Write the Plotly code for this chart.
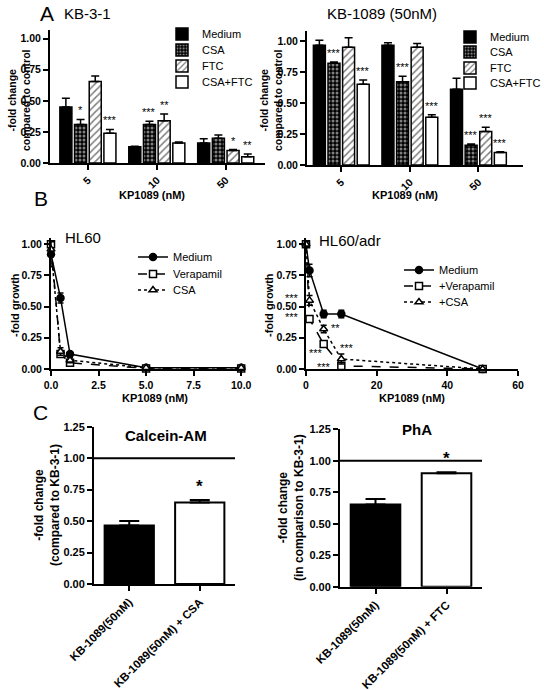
import plotly.graph_objects as go

FONT = "Liberation Sans, Arial, Helvetica, sans-serif"
W, H = 544, 690

# ---------------- data ----------------
# Panel A
A_CATS = ["5", "10", "50"]
A_SERIES = ["Medium", "CSA", "FTC", "CSA+FTC"]

KB31_MEDIUM = [0.45, 0.13, 0.16]
KB31_CSA = [0.31, 0.31, 0.20]
KB31_FTC = [0.655, 0.34, 0.10]
KB31_CSA_FTC = [0.24, 0.16, 0.05]
KB31_MEDIUM_ERR = [0.07, 0.005, 0.035]
KB31_CSA_ERR = [0.04, 0.025, 0.025]
KB31_FTC_ERR = [0.045, 0.055, 0.008]
KB31_CSA_FTC_ERR = [0.03, 0.008, 0.022]
KB31_MEDIUM_SIG = ["", "", ""]
KB31_CSA_SIG = ["*", "***", ""]
KB31_FTC_SIG = ["", "**", "*"]
KB31_CSA_FTC_SIG = ["***", "", "**"]

KB1089_MEDIUM = [0.965, 0.965, 0.61]
KB1089_CSA = [0.82, 0.67, 0.16]
KB1089_FTC = [0.95, 0.95, 0.27]
KB1089_CSA_FTC = [0.65, 0.385, 0.10]
KB1089_MEDIUM_ERR = [0.04, 0.02, 0.09]
KB1089_CSA_ERR = [0.01, 0.045, 0.01]
KB1089_FTC_ERR = [0.075, 0.03, 0.035]
KB1089_CSA_FTC_ERR = [0.035, 0.02, 0.006]
KB1089_MEDIUM_SIG = ["", "", ""]
KB1089_CSA_SIG = ["***", "***", "***"]
KB1089_FTC_SIG = ["", "", "***"]
KB1089_CSA_FTC_SIG = ["***", "***", "***"]

# Panel B
HL60_SERIES = ["Medium", "Verapamil", "CSA"]
HL60_DOSE = [0, 0.5, 1, 5, 10]
HL60_MEDIUM = [0.92, 0.57, 0.12, 0.01, 0.01]
HL60_MEDIUM_ERR = [0.1, 0.04, 0.01, 0.01, 0.01]
HL60_VERAPAMIL = [1.0, 0.12, 0.05, 0.005, 0.005]
HL60_VERAPAMIL_ERR = [0.02, 0.02, 0.01, 0.005, 0.005]
HL60_CSA = [0.96, 0.14, 0.07, 0.01, 0.01]
HL60_CSA_ERR = [0.06, 0.03, 0.02, 0.005, 0.005]

ADR_SERIES = ["Medium", "+Verapamil", "+CSA"]
ADR_DOSE = [0, 1, 5, 10, 50]
ADR_MEDIUM = [1.0, 0.79, 0.44, 0.44, 0.0]
ADR_MEDIUM_ERR = [0.02, 0.05, 0.03, 0.03, 0.005]
ADR_VERAPAMIL = [1.0, 0.40, 0.20, 0.025, 0.0]
ADR_VERAPAMIL_ERR = [0.02, 0.02, 0.02, 0.01, 0.005]
ADR_CSA = [1.0, 0.55, 0.32, 0.08, 0.0]
ADR_CSA_ERR = [0.02, 0.04, 0.03, 0.04, 0.005]
ADR_VERAPAMIL_SIG = ["", "***", "***", "***", ""]
ADR_CSA_SIG = ["", "***", "**", "***", ""]

# Panel C
CALCEIN_CATS = ["KB-1089(50nM)", "KB-1089(50nM) + CSA"]
CALCEIN_VALS = [0.465, 0.648]
CALCEIN_ERR = [0.035, 0.02]
CALCEIN_SIG = ["", "*"]
PHA_CATS = ["KB-1089(50nM)", "KB-1089(50nM) + FTC"]
PHA_VALS = [0.652, 0.90]
PHA_ERR = [0.045, 0.008]
PHA_SIG = ["", "*"]
C_REFERENCE = 1.0

# ---------------- helpers ----------------
def fx(px):
    return px / W

def fy(py):
    return 1 - py / H

def dom_x(a, b):
    return [fx(a), fx(b)]

def dom_y(top, bottom):
    return [fy(bottom), fy(top)]

def axis(size=10.5, **kw):
    d = dict(showline=True, linecolor="black", linewidth=2, ticks="outside",
             ticklen=5, tickwidth=1.5, tickcolor="black", showgrid=False,
             zeroline=False, fixedrange=True, automargin=False,
             tickfont=dict(family=FONT, size=size, color="black", weight="bold"))
    d.update(kw)
    return d

BARGAP = 0.148
BARGROUPGAP = 0.18

BAR_STYLE = {
    "Medium": dict(color="black"),
    "CSA": dict(color="black", pattern=dict(shape=".", bgcolor="black", fgcolor="white",
                                            size=4, solidity=0.45)),
    "FTC": dict(color="white", pattern=dict(shape="/", bgcolor="white", fgcolor="black",
                                            size=5, solidity=0.3)),
    "CSA+FTC": dict(color="white"),
}

fig = go.Figure()
annotations = []
legends = {}
leg_counter = [0]

def new_legend(icon_x, center_y):
    leg_counter[0] += 1
    n = leg_counter[0]
    name = "legend" if n == 1 else f"legend{n}"
    legends[name] = dict(x=fx(icon_x - 20), y=fy(center_y), xanchor="left", yanchor="middle",
                         bgcolor="rgba(0,0,0,0)", borderwidth=0,
                         font=dict(family=FONT, size=11, color="black"),
                         itemclick=False, itemdoubleclick=False)
    return name

def star(xref, yref, x, y, text, size=11, xshift=0, yshift=6, bold=False):
    annotations.append(dict(xref=xref, yref=yref, x=x, y=y, text=text, showarrow=False,
                            xanchor="center", yanchor="bottom", xshift=xshift, yshift=yshift,
                            font=dict(family=FONT, size=size, color="black",
                                      weight="bold" if bold else "normal")))

def label(px, py, text, size, bold=False, angle=0, xanchor="center"):
    annotations.append(dict(xref="paper", yref="paper", x=fx(px), y=fy(py), text=text,
                            showarrow=False, xanchor=xanchor, yanchor="middle",
                            textangle=angle,
                            font=dict(family=FONT, size=size, color="black",
                                      weight="bold" if bold else "normal")))

# ---------------- Panel A ----------------
A_POS = list(range(len(A_CATS)))
slot = (1 - BARGAP) / len(A_SERIES)

def bar_panel(xa, ya, vals, errs, sigs, legend_x, legend_ys):
    for j, s in enumerate(A_SERIES):
        st = BAR_STYLE[s]
        marker = dict(color=st["color"], line=dict(color="black", width=1.5))
        if "pattern" in st:
            marker["pattern"] = st["pattern"]
        fig.add_trace(go.Bar(
            x=A_POS, y=vals[j], name=s, xaxis=xa, yaxis=ya, marker=marker,
            legend=new_legend(legend_x, legend_ys[j]),
            error_y=dict(type="data", array=errs[j], arrayminus=[0] * len(A_POS),
                         symmetric=False, color="black", thickness=1.5, width=4),
        ))
        for i in A_POS:
            if sigs[j][i]:
                star(xa, ya, i + (j - 1.5) * slot, vals[j][i] + errs[j][i], sigs[j][i], yshift=1)

bar_panel("x", "y",
          [KB31_MEDIUM, KB31_CSA, KB31_FTC, KB31_CSA_FTC],
          [KB31_MEDIUM_ERR, KB31_CSA_ERR, KB31_FTC_ERR, KB31_CSA_FTC_ERR],
          [KB31_MEDIUM_SIG, KB31_CSA_SIG, KB31_FTC_SIG, KB31_CSA_FTC_SIG],
          182, [34, 50, 66, 82])
bar_panel("x2", "y2",
          [KB1089_MEDIUM, KB1089_CSA, KB1089_FTC, KB1089_CSA_FTC],
          [KB1089_MEDIUM_ERR, KB1089_CSA_ERR, KB1089_FTC_ERR, KB1089_CSA_FTC_ERR],
          [KB1089_MEDIUM_SIG, KB1089_CSA_SIG, KB1089_FTC_SIG, KB1089_CSA_FTC_SIG],
          470, [37, 52, 68, 83])

# ---------------- Panel B ----------------
LINE_STYLE = [
    dict(dash="solid", symbol="circle", fill="black", size=7),
    dict(dash="dash", symbol="square", fill="white", size=7),
    dict(dash="dot", symbol="triangle-up", fill="white", size=7),
]

def line_panel(xa, ya, dose, series, vals, errs, legend_x, legend_ys):
    for j, s in enumerate(series):
        st = LINE_STYLE[j]
        fig.add_trace(go.Scatter(
            x=dose, y=vals[j], name=s, xaxis=xa, yaxis=ya, mode="lines+markers",
            line=dict(color="black", width=1.5, dash=st["dash"]),
            marker=dict(symbol=st["symbol"], size=st["size"], color=st["fill"],
                        line=dict(color="black", width=1.5)),
            error_y=dict(type="data", array=errs[j], color="black", thickness=1.5, width=3),
            legend=new_legend(legend_x, legend_ys[j]), cliponaxis=False,
        ))

line_panel("x3", "y3", HL60_DOSE, HL60_SERIES,
           [HL60_MEDIUM, HL60_VERAPAMIL, HL60_CSA],
           [HL60_MEDIUM_ERR, HL60_VERAPAMIL_ERR, HL60_CSA_ERR], 153, [257, 274, 290])
line_panel("x4", "y4", ADR_DOSE, ADR_SERIES,
           [ADR_MEDIUM, ADR_VERAPAMIL, ADR_CSA],
           [ADR_MEDIUM_ERR, ADR_VERAPAMIL_ERR, ADR_CSA_ERR], 419, [270, 286, 302])

# star offsets (pixels) for HL60/adr
VER_SHIFT = {1: (-18, -6), 2: (-8, -17), 3: (-17, -9)}
CSA_SHIFT = {1: (-18, -6), 2: (12, -7), 3: (6, 3)}
for i, s in enumerate(ADR_VERAPAMIL_SIG):
    if s:
        dx, dy = VER_SHIFT[i]
        star("x4", "y4", ADR_DOSE[i], ADR_VERAPAMIL[i], s, xshift=dx, yshift=dy)
for i, s in enumerate(ADR_CSA_SIG):
    if s:
        dx, dy = CSA_SHIFT[i]
        star("x4", "y4", ADR_DOSE[i], ADR_CSA[i], s, xshift=dx, yshift=dy)

# ---------------- Panel C ----------------
def c_panel(xa, ya, cats, vals, errs, sigs):
    pos = list(range(len(cats)))
    fig.add_trace(go.Bar(
        x=pos, y=vals, xaxis=xa, yaxis=ya, showlegend=False,
        marker=dict(color=["black", "white"], line=dict(color="black", width=2)),
        error_y=dict(type="data", array=errs, arrayminus=[0] * len(pos), symmetric=False,
                     color="black", thickness=2, width=10),
    ))
    fig.add_shape(type="line", xref=xa, yref=ya, x0=-0.5, x1=len(cats) - 0.5,
                  y0=C_REFERENCE, y1=C_REFERENCE, line=dict(color="black", width=2))
    for i in pos:
        if sigs[i]:
            star(xa, ya, i, vals[i] + errs[i], sigs[i], size=17, yshift=2, bold=True)

c_panel("x5", "y5", CALCEIN_CATS, CALCEIN_VALS, CALCEIN_ERR, CALCEIN_SIG)
c_panel("x6", "y6", PHA_CATS, PHA_VALS, PHA_ERR, PHA_SIG)

# ---------------- axes ----------------
Y_TICKS = [0, 0.25, 0.5, 0.75, 1.0]
layout_axes = dict(
    xaxis=axis(domain=dom_x(50, 265), anchor="y", range=[-0.55, 2.57],
               tickvals=A_POS, ticktext=A_CATS, tickangle=-45),
    yaxis=axis(domain=dom_y(30, 163), anchor="x", range=[0, 1.07],
               tickvals=Y_TICKS, tickformat=".2f"),
    xaxis2=axis(domain=dom_x(307, 523), anchor="y2", range=[-0.5, 2.65],
                tickvals=A_POS, ticktext=A_CATS, tickangle=-45),
    yaxis2=axis(domain=dom_y(31, 165), anchor="x2", range=[0, 1.08],
                tickvals=Y_TICKS, tickformat=".2f"),
    xaxis3=axis(domain=dom_x(51, 245), anchor="y3", range=[0, 10.2],
                tickvals=[0, 2.5, 5, 7.5, 10], tickformat=".1f"),
    yaxis3=axis(domain=dom_y(238, 369), anchor="x3", range=[0, 1.05],
                tickvals=Y_TICKS, tickformat=".2f"),
    xaxis4=axis(domain=dom_x(306, 518), anchor="y4", range=[0, 60],
                tickvals=[0, 20, 40, 60]),
    yaxis4=axis(domain=dom_y(238, 369), anchor="x4", range=[0, 1.05],
                tickvals=Y_TICKS, tickformat=".2f"),
    xaxis5=axis(size=11.5, domain=dom_x(94, 235), anchor="y5", range=[-0.5, 1.5],
                tickvals=[0, 1], ticktext=CALCEIN_CATS, tickangle=-45),
    yaxis5=axis(size=11, domain=dom_y(426.7, 584), anchor="x5", range=[0, 1.25],
                tickvals=Y_TICKS + [1.25], tickformat=".2f"),
    xaxis6=axis(size=11.5, domain=dom_x(340, 482), anchor="y6", range=[-0.5, 1.5],
                tickvals=[0, 1], ticktext=PHA_CATS, tickangle=-45),
    yaxis6=axis(size=11, domain=dom_y(429.3, 586.7), anchor="x6", range=[0, 1.25],
                tickvals=Y_TICKS + [1.25], tickformat=".2f"),
)

# ---------------- text ----------------
label(47, 13, "A", 21)
label(87, 14, "KB-3-1", 15)
label(382, 13, "KB-1089 (50nM)", 15)
label(19, 100, "-fold change<br>compared to control", 10.5, bold=True, angle=-90)
label(271, 100, "-fold change<br>compared to control", 10.5, bold=True, angle=-90)
label(152, 195, "KP1089 (nM)", 11, bold=True)
label(405, 195, "KP1089 (nM)", 11, bold=True)

label(41, 198, "B", 21)
label(63, 238, "HL60", 15, xanchor="left")
label(317, 240, "HL60/adr", 15, xanchor="left")
label(15, 305, "-fold growth", 11, bold=True, angle=-90)
label(269, 305, "-fold growth", 11, bold=True, angle=-90)
label(155, 398, "KP1089 (nM)", 11, bold=True)
label(412, 398, "KP1089 (nM)", 11, bold=True)

label(40, 413, "C", 21)
label(166, 435, "Calcein-AM", 15, bold=True)
label(417, 429, "PhA", 15, bold=True)
label(47, 505, "-fold change<br>(compared to KB-3-1)", 12, bold=True, angle=-90)
label(291, 508, "-fold change<br>(in comparison to KB-3-1)", 12, bold=True, angle=-90)

fig.update_layout(
    width=W, height=H, margin=dict(l=0, r=0, t=0, b=0, pad=0, autoexpand=False),
    paper_bgcolor="white", plot_bgcolor="white",
    barmode="group", bargap=BARGAP, bargroupgap=BARGROUPGAP,
    font=dict(family=FONT, color="black"),
    annotations=annotations, showlegend=True,
    **layout_axes, **legends,
)

# the page has a default 8px body margin; remove it so the figure fills the window exactly
fig.write_html("out.html", config={"displayModeBar": False},
               post_script="document.body.style.margin='0px';document.body.style.overflow='hidden';")
